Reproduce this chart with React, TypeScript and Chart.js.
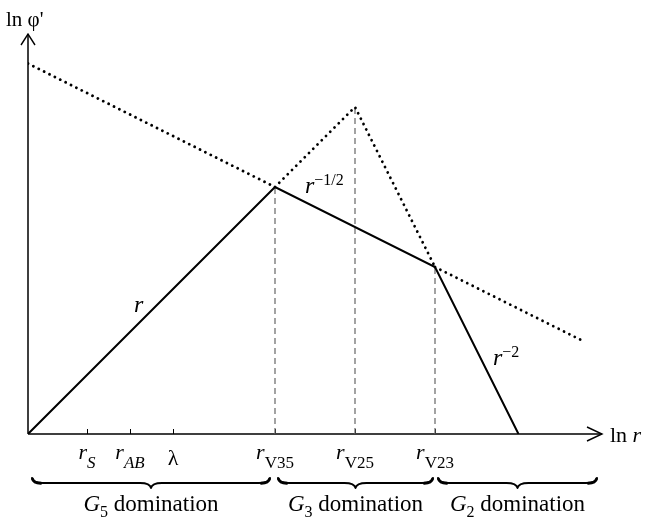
import React, { useEffect, useRef } from 'react';
import { Chart, registerables } from 'chart.js';

Chart.register(...registerables);

// ---- data (in ln units) ----
const tickMain = ['r', 'r', 'λ', 'r', 'r', 'r'];
const tickSub = ['S', 'AB', '', 'V35', 'V25', 'V23'];
const tickSubItalic = [true, true, false, false, false, false];
const tickValues = [5.9, 10.2, 14.5, 24.7, 32.7, 40.7];

const solidX = [0, 24.7, 40.7, 49.05];
const solidY = [0, 24.7, 16.7, 0];

// r^{-1/2} reference line, visible outside the solid segment
const dottedLeftX = [0, 24.7];
const dottedLeftY = [37.05, 24.7];
const dottedRightX = [40.7, 55.5];
const dottedRightY = [16.7, 9.3];

const dottedPeakX = [24.7, 32.7, 40.7];
const dottedPeakY = [24.7, 32.7, 16.7];

const guideX = [24.7, 32.7, 40.7];
const guideTop = [24.7, 32.7, 16.7];

const regionIndex = ['5', '3', '2'];
const regionStart = [0.4, 25.0, 41.0];
const regionEnd = [24.2, 40.5, 56.9];

const slopeSup = ['', '−1/2', '−2'];

const X_MAX = 57.4;
const Y_MAX = 40;

const SERIF = '"Liberation Serif", "DejaVu Serif", serif';

type Part = { t: string; f: string; dy?: number };

function drawParts(ctx: CanvasRenderingContext2D, parts: Part[], x: number, y: number, align: 'left' | 'center') {
  ctx.save();
  ctx.textBaseline = 'alphabetic';
  ctx.textAlign = 'left';
  let total = 0;
  const widths = parts.map((p) => {
    ctx.font = p.f;
    const w = ctx.measureText(p.t).width;
    total += w;
    return w;
  });
  let cx = align === 'center' ? x - total / 2 : x;
  parts.forEach((p, i) => {
    ctx.font = p.f;
    ctx.fillText(p.t, cx, y + (p.dy || 0));
    cx += widths[i];
  });
  ctx.restore();
}

function brace(ctx: CanvasRenderingContext2D, x1: number, x2: number, y: number, h: number) {
  const xm = (x1 + x2) / 2;
  const ym = y + h / 2;
  const r = Math.min(11, (x2 - x1) / 4);
  ctx.lineCap = 'round';
  ctx.lineJoin = 'round';
  ctx.lineWidth = 1.8;
  ctx.beginPath();
  ctx.moveTo(x1, y);
  ctx.quadraticCurveTo(x1 + 1, ym, x1 + r, ym);
  ctx.lineTo(xm - r, ym);
  ctx.quadraticCurveTo(xm - 1, ym, xm, y + h);
  ctx.quadraticCurveTo(xm + 1, ym, xm + r, ym);
  ctx.lineTo(x2 - r, ym);
  ctx.quadraticCurveTo(x2 - 1, ym, x2, y);
  ctx.stroke();
  // thicker curls at the ends
  ctx.lineWidth = 3;
  ctx.beginPath();
  ctx.moveTo(x1 + 0.5, y + 1);
  ctx.quadraticCurveTo(x1 + 1.5, ym, x1 + r * 0.8, ym + 0.3);
  ctx.moveTo(x2 - 0.5, y + 1);
  ctx.quadraticCurveTo(x2 - 1.5, ym, x2 - r * 0.8, ym + 0.3);
  ctx.stroke();
}

const annotationPlugin = {
  id: 'schematicAnnotations',
  beforeDatasetsDraw(chart: any) {
    const ctx: CanvasRenderingContext2D = chart.ctx;
    const xs = chart.scales.x;
    const ys = chart.scales.y;
    const x0 = xs.getPixelForValue(0);
    const y0 = ys.getPixelForValue(0);
    const xEnd = xs.getPixelForValue(X_MAX);
    const yEnd = ys.getPixelForValue(Y_MAX);
    ctx.save();
    ctx.strokeStyle = '#000';
    ctx.lineWidth = 1.5;
    ctx.lineCap = 'butt';
    ctx.beginPath();
    ctx.moveTo(x0, y0);
    ctx.lineTo(xEnd, y0);
    ctx.moveTo(x0, y0);
    ctx.lineTo(x0, yEnd);
    ctx.stroke();
    ctx.lineWidth = 1.4;
    ctx.beginPath();
    ctx.moveTo(xEnd - 15, y0 - 7);
    ctx.lineTo(xEnd, y0);
    ctx.lineTo(xEnd - 15, y0 + 7);
    ctx.moveTo(x0 - 7, yEnd + 11);
    ctx.lineTo(x0, yEnd);
    ctx.lineTo(x0 + 7, yEnd + 11);
    ctx.stroke();
    ctx.lineWidth = 1;
    ctx.beginPath();
    tickValues.forEach((v) => {
      const px = Math.round(xs.getPixelForValue(v)) + 0.5;
      ctx.moveTo(px, y0);
      ctx.lineTo(px, y0 - 5);
    });
    ctx.stroke();
    ctx.restore();
  },
  afterDraw(chart: any) {
    const ctx: CanvasRenderingContext2D = chart.ctx;
    const xs = chart.scales.x;
    const ys = chart.scales.y;
    const y0 = ys.getPixelForValue(0);
    ctx.save();
    ctx.fillStyle = '#000';
    ctx.strokeStyle = '#000';

    const fI = (s: number) => `italic ${s}px ${SERIF}`;
    const fR = (s: number) => `${s}px ${SERIF}`;

    drawParts(ctx, [{ t: 'ln φ\'', f: fR(21) }], 6, 26, 'left');
    drawParts(ctx, [{ t: 'ln ', f: fR(22) }, { t: 'r', f: fI(22) }], xs.getPixelForValue(X_MAX) + 8, y0 + 8, 'left');

    tickValues.forEach((v, i) => {
      const px = xs.getPixelForValue(v);
      if (tickMain[i] === 'λ') {
        drawParts(ctx, [{ t: 'λ', f: fR(22) }], px, y0 + 31, 'center');
      } else {
        drawParts(
          ctx,
          [
            { t: tickMain[i], f: fI(22) },
            { t: tickSub[i], f: tickSubItalic[i] ? fI(17) : fR(17), dy: 9 },
          ],
          px,
          y0 + 25,
          'center'
        );
      }
    });

    regionStart.forEach((s, i) => {
      const a = xs.getPixelForValue(s);
      const b = xs.getPixelForValue(regionEnd[i]);
      brace(ctx, a, b, y0 + 44, 10);
      drawParts(
        ctx,
        [
          { t: 'G', f: fI(23) },
          { t: regionIndex[i], f: fR(16), dy: 6 },
          { t: ' domination', f: fR(23) },
        ],
        (a + b) / 2,
        y0 + 77,
        'center'
      );
    });

    const slopeAnchorX = [10.6, 27.7, 46.5];
    const slopeAnchorY = [12.2, 24.1, 6.9];
    slopeSup.forEach((sup, i) => {
      const px = xs.getPixelForValue(slopeAnchorX[i]);
      const py = ys.getPixelForValue(slopeAnchorY[i]);
      const parts: Part[] = [{ t: 'r', f: fI(24) }];
      if (sup) parts.push({ t: sup, f: fR(16), dy: -8 });
      drawParts(ctx, parts, px, py, 'left');
    });
    ctx.restore();
  },
};

export default function App() {
  const ref = useRef<HTMLCanvasElement | null>(null);
  useEffect(() => {
    if (!ref.current) return;
    const pts = (xs: number[], ys: number[]) => xs.map((x, i) => ({ x, y: ys[i] }));
    const dotted = (xs: number[], ys: number[]) => ({
      data: pts(xs, ys),
      showLine: true,
      borderColor: '#000',
      borderWidth: 2.8,
      borderDash: [0.01, 6],
      borderCapStyle: 'round',
      pointRadius: 0,
      order: 1,
    });
    const guides = guideX.map((gx, i) => ({
      data: [
        { x: gx, y: 0 },
        { x: gx, y: guideTop[i] },
      ],
      showLine: true,
      borderColor: '#666666',
      borderWidth: 1.2,
      borderDash: [6, 4],
      pointRadius: 0,
      fill: false,
      order: 3,
    }));
    const chart = new Chart(ref.current, {
      type: 'scatter',
      data: {
        datasets: [
          {
            data: pts(solidX, solidY),
            showLine: true,
            borderColor: '#000',
            borderWidth: 2,
            pointRadius: 0,
            borderJoinStyle: 'miter',
            order: 0,
          } as any,
          dotted(dottedLeftX, dottedLeftY),
          dotted(dottedRightX, dottedRightY),
          dotted(dottedPeakX, dottedPeakY),
          ...guides,
        ],
      },
      options: {
        animation: false,
        responsive: false,
        maintainAspectRatio: false,
        layout: { padding: { left: 28, right: 44, top: 34, bottom: 88 } },
        scales: {
          x: { type: 'linear', min: 0, max: X_MAX, display: false },
          y: { type: 'linear', min: 0, max: Y_MAX, display: false },
        },
        plugins: {
          legend: { display: false },
          tooltip: { enabled: false },
        },
        events: [],
      },
      plugins: [annotationPlugin],
    } as any);
    return () => chart.destroy();
  }, []);
  return (
    <div style={{ position: 'fixed', left: 0, top: 0, width: 646, height: 522, background: '#fff' }}>
      <canvas ref={ref} width={646} height={522} style={{ display: 'block' }} />
    </div>
  );
}
